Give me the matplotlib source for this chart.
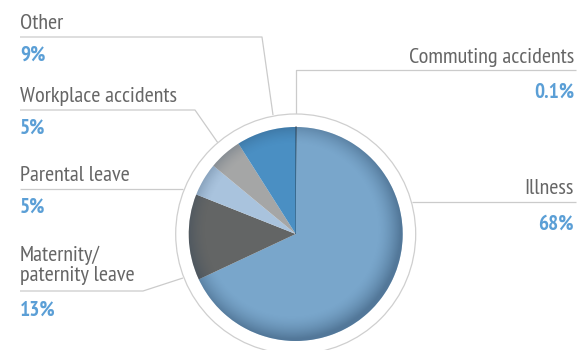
import numpy as np
import matplotlib
matplotlib.use("Agg")
import matplotlib.pyplot as plt
from matplotlib.patches import Circle

# absence causes, clockwise from 12 o'clock
labels = ["Commuting accidents", "Illness", "Maternity/\npaternity leave",
          "Parental leave", "Workplace accidents", "Other"]
shares = [0.1, 68, 13, 5, 5, 9]
pct_text = ["0.1%", "68%", "13%", "5%", "5%", "9%"]
colors = ["#111111", "#79a6cb", "#636565", "#a9c3dd", "#a5a6a6", "#4a8fc3"]

W, H = 578, 350
cx, cy, R = 295.7, H - 234, 107
ring_r = 120

plt.rcParams["font.family"] = ["PT Sans Narrow", "DejaVu Sans"]
label_col = "#666666"
pct_col = "#5b9fd6"
line_col = "#cbcbcb"

fig = plt.figure(figsize=(W / 100, H / 100), dpi=100)
ax = fig.add_axes([0, 0, 1, 1])

# white ring around the pie
ax.add_patch(Circle((cx, cy), ring_r, facecolor="white", edgecolor="#cfcfcf", lw=0.9, zorder=1))

wedges, _ = ax.pie(shares, colors=colors, startangle=90, counterclock=False,
                   center=(cx, cy), radius=R, frame=True,
                   wedgeprops=dict(linewidth=0, zorder=2))
wedges[0].set_edgecolor("#111111")
wedges[0].set_linewidth(0.7)

# soft inner shadow along the rim
n = 400
xs = np.linspace(-1, 1, n)
gx, gy = np.meshgrid(xs, xs)
rr = np.hypot(gx + 0.04, gy - 0.04)
alpha = np.clip((rr - 0.80) / 0.22, 0, 1) ** 1.6 * 0.42
img = np.zeros((n, n, 4))
img[..., 0] = 0.12
img[..., 1] = 0.22
img[..., 2] = 0.33
img[..., 3] = alpha
clip = Circle((cx, cy), R, transform=ax.transData)
im = ax.imshow(img, extent=[cx - R, cx + R, cy - R, cy + R], origin="lower",
               interpolation="bilinear", zorder=3)
im.set_clip_path(clip)

# leader lines (y measured from the top)
leaders = [
    [(576, 70), (295.5, 70), (295.5, 114)],
    [(576, 202), (411.5, 202)],
    [(20, 291), (143, 291), (183, 278)],
    [(20, 189), (183, 189)],
    [(20, 110), (195, 110), (218, 143)],
    [(20, 37), (262, 37), (273, 115)],
]
for pts in leaders:
    px = [p[0] for p in pts]
    py = [H - p[1] for p in pts]
    ax.plot(px, py, color=line_col, lw=0.9, zorder=0, solid_capstyle="butt")

# label placement: x, alignment, baseline of (last line of) name, baseline of percentage
layout = [
    (574, "right", 63, 97.7),
    (574, "right", 194.3, 230),
    (20, "left", 280.7, 315.7),
    (20, "left", 181, 212.7),
    (20, "left", 101.7, 134),
    (20, "left", 29.3, 61),
]
for lab, pct, (x, ha, yl, yp) in zip(labels, pct_text, layout):
    ax.text(x, H - yl, lab, ha=ha, va="baseline", fontsize=16, color=label_col,
            linespacing=1.05)
    ax.text(x, H - yp, pct, ha=ha, va="baseline", fontsize=15.3, color=pct_col,
            fontweight="bold")

ax.set_xlim(0, W)
ax.set_ylim(0, H)
ax.set_aspect("equal")
ax.axis("off")
fig.savefig("out.png", dpi=100)
